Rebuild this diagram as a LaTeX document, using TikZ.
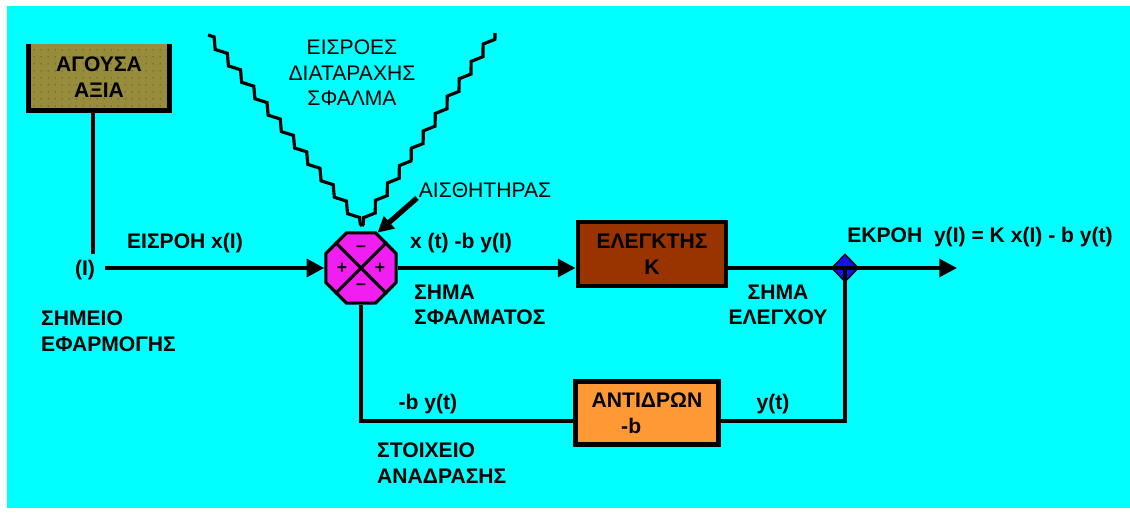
\documentclass[tikz,border=0pt]{standalone}
\usepackage{fontspec}
\setmainfont{Liberation Sans}
\usetikzlibrary{arrows.meta,shapes.geometric,decorations.pathmorphing,patterns.meta,calc}

\definecolor{bgcyan}{RGB}{0,255,255}
\definecolor{olivebox}{RGB}{150,140,60}
\definecolor{olivedot}{RGB}{90,85,30}
\definecolor{ctrlbrown}{RGB}{153,51,0}
\definecolor{fborange}{RGB}{255,153,51}
\definecolor{summag}{RGB}{240,30,240}
\definecolor{juncblue}{RGB}{20,20,230}

\begin{document}
\begin{tikzpicture}[x=0.2mm,y=-0.2mm,
  font=\fontsize{12}{14.5}\selectfont\bfseries,
  sig/.style={line width=2.2pt},
  arr/.style={sig,-{Triangle[length=10pt,width=10pt]}},
  blockbox/.style={draw,line width=2.8pt,inner sep=0pt,align=center},
  thin text/.style={font=\fontsize{12}{14.5}\selectfont},
  sign/.style={font=\fontsize{10}{12}\selectfont\bfseries,inner sep=0pt},
  zig/.style={line width=1.8pt,decorate,decoration={zigzag,segment length=12pt,amplitude=2pt}}
]

\useasboundingbox (0,0) rectangle (1130,513);
\fill[white] (0,0) rectangle (1130,513);
\fill[bgcyan] (7,6) rectangle (1130,508);

%% reference value box, open at the top
\node[fill=olivebox,postaction={pattern={Dots[distance=4pt,radius=0.45pt]},pattern color=olivedot},
      minimum width=28mm,minimum height=13.2mm,inner sep=0pt,align=center] (ref) at (99,77) {ΑΓΟΥΣΑ\\ΑΞΙΑ};
\draw[line width=3pt] (ref.north west) -- (ref.south west) -- (ref.south east) -- (ref.north east);

%% summing point with its signs
\node[regular polygon,regular polygon sides=8,draw,line width=1.8pt,fill=summag,
      minimum size=15.2mm,inner sep=0pt] (sum) at (361,268) {};
\draw[line width=1.8pt] (sum.45) -- (sum.225) (sum.135) -- (sum.315);
\node[sign] (sgtop) at ($(sum)+(0,-19)$) {--};
\node[sign] (sgbot) at ($(sum)+(0,19)$) {--};
\node[sign] (sgleft) at ($(sum)+(-19,0)$) {+};
\node[sign] (sgright) at ($(sum)+(19,0)$) {+};

%% controller and feedback blocks
\node[blockbox,fill=ctrlbrown,minimum width=29.6mm,minimum height=12.8mm] (ctrl) at (652,254) {ΕΛΕΓΚΤΗΣ\\Κ};
\node[blockbox,fill=fborange,minimum width=28.6mm,minimum height=12.6mm] (fb) at (647,413) {ΑΝΤΙΔΡΩΝ\\-b\hspace*{1.5em}};

%% take-off point
\node[diamond,draw,line width=0.8pt,fill=juncblue,inner sep=0pt,minimum width=5.4mm,minimum height=5.6mm] (junc) at (845,268) {};

%% free ends
\coordinate (drop) at (93,254);
\coordinate (xin) at (105,268);
\coordinate (yout) at (957,268);
\coordinate (dl) at (208,35);
\coordinate (dr) at (495,33);
\coordinate (dtip) at (362,226);
\coordinate (sens) at (417,198);

% input branch
\draw[sig] (ref.south -| drop) -- (drop);
\draw[arr] (xin) -- (sum.west);

% forward path
\draw[arr] (sum.east) -- (sum.east -| ctrl.west);
\draw[sig] (sum.east -| ctrl.east) -- (junc.center);
\draw[arr] (junc.center) -- (yout);

% feedback path
\draw[sig] (junc.center) |- ($(fb.east)+(0,8)$);
\draw[sig] ($(fb.west)+(0,8)$) -| (sum.south);

% disturbances
\draw[zig] (dl) -- (dtip);
\draw[zig] (dr) -- (dtip);

% sensor pointer
\draw[line width=3pt,-{Triangle[length=9pt,width=9pt]}] (sens) -- (sum.65);

%% labels
\node (app) at (85,270) {(I)};
\node (xlbl) at (185,243) {ΕΙΣΡΟΗ x(I)};
\node[anchor=west,align=left] (apptxt) at (35,331) {ΣΗΜΕΙΟ\\ΕΦΑΡΜΟΓΗΣ};
\node[thin text,align=center] (disttxt) at (352,73) {ΕΙΣΡΟΕΣ\\ΔΙΑΤΑΡΑΧΗΣ\\ΣΦΑΛΜΑ};
\node[thin text] (senstxt) at (485,190) {ΑΙΣΘΗΤΗΡΑΣ};
\node (elbl) at (461,243) {x (t) -b y(I)};
\node[anchor=west,align=left] (etxt) at (408,305) {ΣΗΜΑ\\ΣΦΑΛΜΑΤΟΣ};
\node (ylbl) at (980,237) {ΕΚΡΟΗ\ \ y(I) = K x(I) - b y(t)};
\node[align=center] (utxt) at (778,305) {ΣΗΜΑ\\ΕΛΕΓΧΟΥ};
\node (fbin) at (428,404) {-b y(t)};
\node (fbout) at (773,404) {y(t)};
\node[anchor=west,align=left] (fbtxt) at (371,463) {ΣΤΟΙΧΕΙΟ\\ΑΝΑΔΡΑΣΗΣ};

\end{tikzpicture}
\end{document}
